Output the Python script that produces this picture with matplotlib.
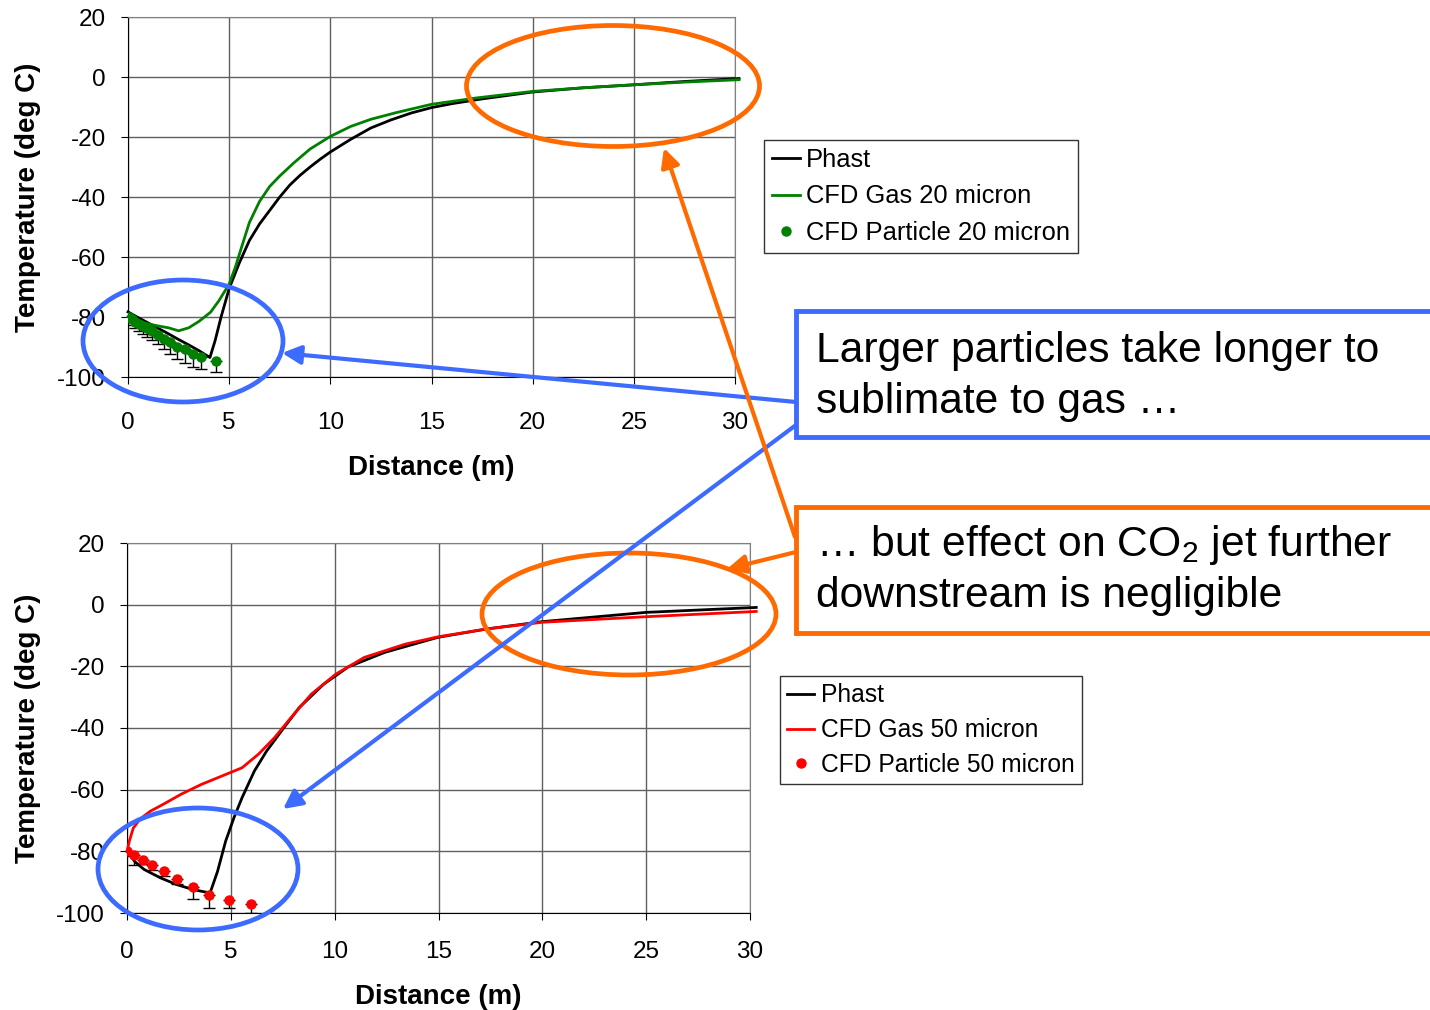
import numpy as np
import matplotlib
matplotlib.use('Agg')
import matplotlib.pyplot as plt
from matplotlib.patches import Ellipse, Rectangle, FancyArrowPatch

plt.rcParams['font.family'] = ['Liberation Sans', 'DejaVu Sans']
plt.rcParams['mathtext.fontset'] = 'custom'
plt.rcParams['mathtext.rm'] = 'Liberation Sans'
plt.rcParams['mathtext.it'] = 'Liberation Sans:italic'
plt.rcParams['axes.unicode_minus'] = False

# --- data ---
# top panel: 20 micron
phast20_x = [0, 0.5, 1.0, 1.5, 2.0, 2.5, 3.0, 3.5, 4.05, 4.3, 4.6, 5.0, 5.5, 6.0, 6.5, 7.0,
             7.5, 8.0, 8.5, 9.0, 9.5, 10, 11, 12, 13, 14, 15, 16, 17.5, 20, 22.5, 25, 27.5, 30.2]
phast20_y = [-78.3, -80.2, -82, -83.8, -85.6, -87.5, -89.3, -91.2, -93.5, -88, -80, -70.5,
             -62, -54.5, -49, -44.5, -40, -36, -32.8, -30, -27.4, -25, -20.8, -17, -14.3, -12,
             -10.2, -8.9, -7.3, -5.0, -3.6, -2.6, -1.5, -0.5]
gas20_x = [0, 0.5, 1.0, 1.5, 2.0, 2.5, 3.0, 3.5, 4.08, 4.5, 5.0, 5.3, 5.6, 6.0, 6.5, 7.0,
           7.5, 8.2, 9.0, 10, 11, 12, 13.3, 15, 17.2, 20, 22.5, 25, 27.5, 30.2]
gas20_y = [-79.9, -81.5, -82.3, -83.0, -83.6, -84.6, -83.6, -81.5, -78.4, -74.5, -69, -63.5,
           -57, -48.5, -41.5, -36.5, -33, -28.6, -24, -19.8, -16.5, -14.1, -11.8, -9.1, -7.0,
           -4.8, -3.6, -2.6, -1.7, -0.9]
part20_x = [0.05, 0.2, 0.35, 0.55, 0.75, 0.95, 1.2, 1.5, 1.8, 2.1, 2.42, 2.8, 3.22, 3.63, 4.33]
part20_y = [-80, -80.8, -81.5, -82.2, -83, -83.8, -84.8, -86, -87.2, -88.4, -90, -90.7,
            -92.2, -93.4, -94.8]
part20_err = [1.5, 2, 2, 2.5, 2.5, 3, 3, 3, 3.5, 4, 4, 4.5, 4.5, 4, 3.5]

# bottom panel: 50 micron
phast50_x = [0, 0.4, 0.83, 1.61, 2.4, 3.18, 4.0, 4.36, 4.75, 5.15, 5.54, 6.13, 6.72, 7.5,
             8.29, 9.47, 10.65, 12.4, 14.97, 17.3, 20, 25, 30.3]
phast50_y = [-80, -83.5, -85.9, -88.6, -90.8, -92.4, -93.5, -86.5, -76.7, -69.1, -62.6, -54,
             -47.5, -40.4, -33.4, -25.8, -20.2, -15.5, -10.6, -7.9, -5.5, -2.5, -0.9]
gas50_x = [0, 0.12, 0.3, 0.63, 1.12, 1.81, 2.6, 3.58, 4.56, 5.54, 6.33, 7.11, 7.9, 8.88,
           10.06, 11.43, 13.4, 15, 17.3, 20, 25, 30.3]
gas50_y = [-80, -76.5, -72.5, -69.5, -67.0, -64.5, -61.5, -58.3, -55.6, -52.9, -48.5, -43.1,
           -36.6, -29, -22.5, -17.1, -12.8, -10.4, -7.9, -5.7, -3.9, -2.2]
part50_x = [0, 0.33, 0.76, 1.2, 1.79, 2.39, 3.16, 3.97, 4.9, 5.98]
part50_y = [-80, -81.3, -82.7, -84.5, -86.4, -89.1, -91.6, -94.3, -95.9, -97.2]
part50_err = [1.5, 3, 1.5, 1.5, 1.5, 1.5, 4, 4.1, 2.5, 2.8]

x_ticks = [0, 5, 10, 15, 20, 25, 30]
y_ticks = [-100, -80, -60, -40, -20, 0, 20]

BLUE = '#3d6bff'
ORANGE = '#ff6a00'
W, H = 1430, 1010


def draw_panel(ax, px, py, gx, gy, kx, ky, kerr, color, size, xpad, xlab_y):
    ax.errorbar(kx, ky, yerr=[kerr, [0] * len(kerr)], fmt='none', ecolor='black',
                elinewidth=1, capsize=4, capthick=1, zorder=2)
    ax.plot(px, py, color='black', lw=2, label='Phast', zorder=3, clip_on=False)
    ax.plot(gx, gy, color=color, lw=2, label=f'CFD Gas {size} micron', zorder=4, clip_on=False)
    ax.plot(kx, ky, 'o', color=color, ms=6.5, label=f'CFD Particle {size} micron', zorder=5)

    ax.set_xlim(0, 30)
    ax.set_ylim(-100, 20)
    ax.set_xticks(x_ticks)
    ax.set_yticks(y_ticks)
    ax.grid(True, color='#606060', lw=1)
    ax.set_axisbelow(True)
    for s in ['top', 'right']:
        ax.spines[s].set_color('#808080')
    for s in ['left', 'bottom']:
        ax.spines[s].set_color('black')
    ax.tick_params(axis='x', length=5, pad=xpad, labelsize=17.5, direction='out')
    ax.tick_params(axis='y', length=5, pad=11, labelsize=17.5, direction='out')
    ax.set_xlabel('Distance (m)', fontsize=20, fontweight='bold')
    ax.set_ylabel('Temperature (deg C)', fontsize=20, fontweight='bold')
    ax.xaxis.set_label_coords(0.5, xlab_y)
    ax.xaxis.label.set_va('center')
    ax.yaxis.label.set_va('center')


fig = plt.figure(figsize=(14.3, 10.1), dpi=100)

ax1 = fig.add_axes([128 / W, 1 - 377 / H, 607 / W, 360 / H])
draw_panel(ax1, phast20_x, phast20_y, gas20_x, gas20_y, part20_x, part20_y, part20_err,
           '#008000', 20, 20, -0.253)
ax1.yaxis.set_label_coords((28 - 128) / 607, 0.5)

ax2 = fig.add_axes([127 / W, 1 - 913 / H, 623 / W, 370 / H])
draw_panel(ax2, phast50_x, phast50_y, gas50_x, gas50_y, part50_x, part50_y, part50_err,
           '#ff0000', 50, 15.5, -0.228)
ax2.yaxis.set_label_coords((28 - 127) / 623, 0.5)

leg_kw = dict(loc='upper left', frameon=True, fancybox=False,
              borderaxespad=0, handlelength=1.1, handletextpad=0.25,
              borderpad=0.3, bbox_transform=fig.transFigure)
lg1 = ax1.legend(bbox_to_anchor=(764 / W, 1 - 140 / H), fontsize=18.4, labelspacing=0.5, **leg_kw)
lg2 = ax2.legend(bbox_to_anchor=(780 / W, 1 - 676 / H), fontsize=17.7, labelspacing=0.44, **leg_kw)
for lg in (lg1, lg2):
    lg.get_frame().set_edgecolor('black')
    lg.get_frame().set_linewidth(1)

# overlay in pixel coordinates for the callouts
ov = fig.add_axes([0, 0, 1, 1], zorder=10)
ov.set_xlim(0, W)
ov.set_ylim(H, 0)
ov.axis('off')
ov.patch.set_visible(False)

ellipses = [((183, 341), 200, 122, BLUE), ((613, 86), 293, 121, ORANGE),
            ((629, 614), 294, 122, ORANGE), ((198, 869), 200, 122, BLUE)]
for c, w, h, col in ellipses:
    ov.add_patch(Ellipse(c, w, h, fill=False, edgecolor=col, lw=3.4))

ov.add_patch(Rectangle((796, 311), 700, 126, fill=True, facecolor='white',
                       edgecolor=BLUE, lw=3.5, clip_on=False))
ov.add_patch(Rectangle((796, 507), 700, 126, fill=True, facecolor='white',
                       edgecolor=ORANGE, lw=3.5, clip_on=False))

ov.text(816, 351, 'Larger particles take longer to', fontsize=30.7, va='center', ha='left')
ov.text(816, 402, 'sublimate to gas \u2026', fontsize=30.7, va='center', ha='left')
ov.text(816, 545, '\u2026 but effect on CO$_2$ jet further', fontsize=30.7, va='center', ha='left')
ov.text(816, 596, 'downstream is negligible', fontsize=30.7, va='center', ha='left')

arrows = [((796, 402), (282, 353), BLUE), ((796, 425), (283, 809), BLUE),
          ((795, 537), (664, 148), ORANGE), ((796, 552), (727, 569), ORANGE)]
for start, end, col in arrows:
    ov.add_patch(FancyArrowPatch(start, end, arrowstyle='-|>', mutation_scale=28,
                                 color=col, lw=3, shrinkA=0, shrinkB=0))

fig.savefig('out.png', dpi=100)
